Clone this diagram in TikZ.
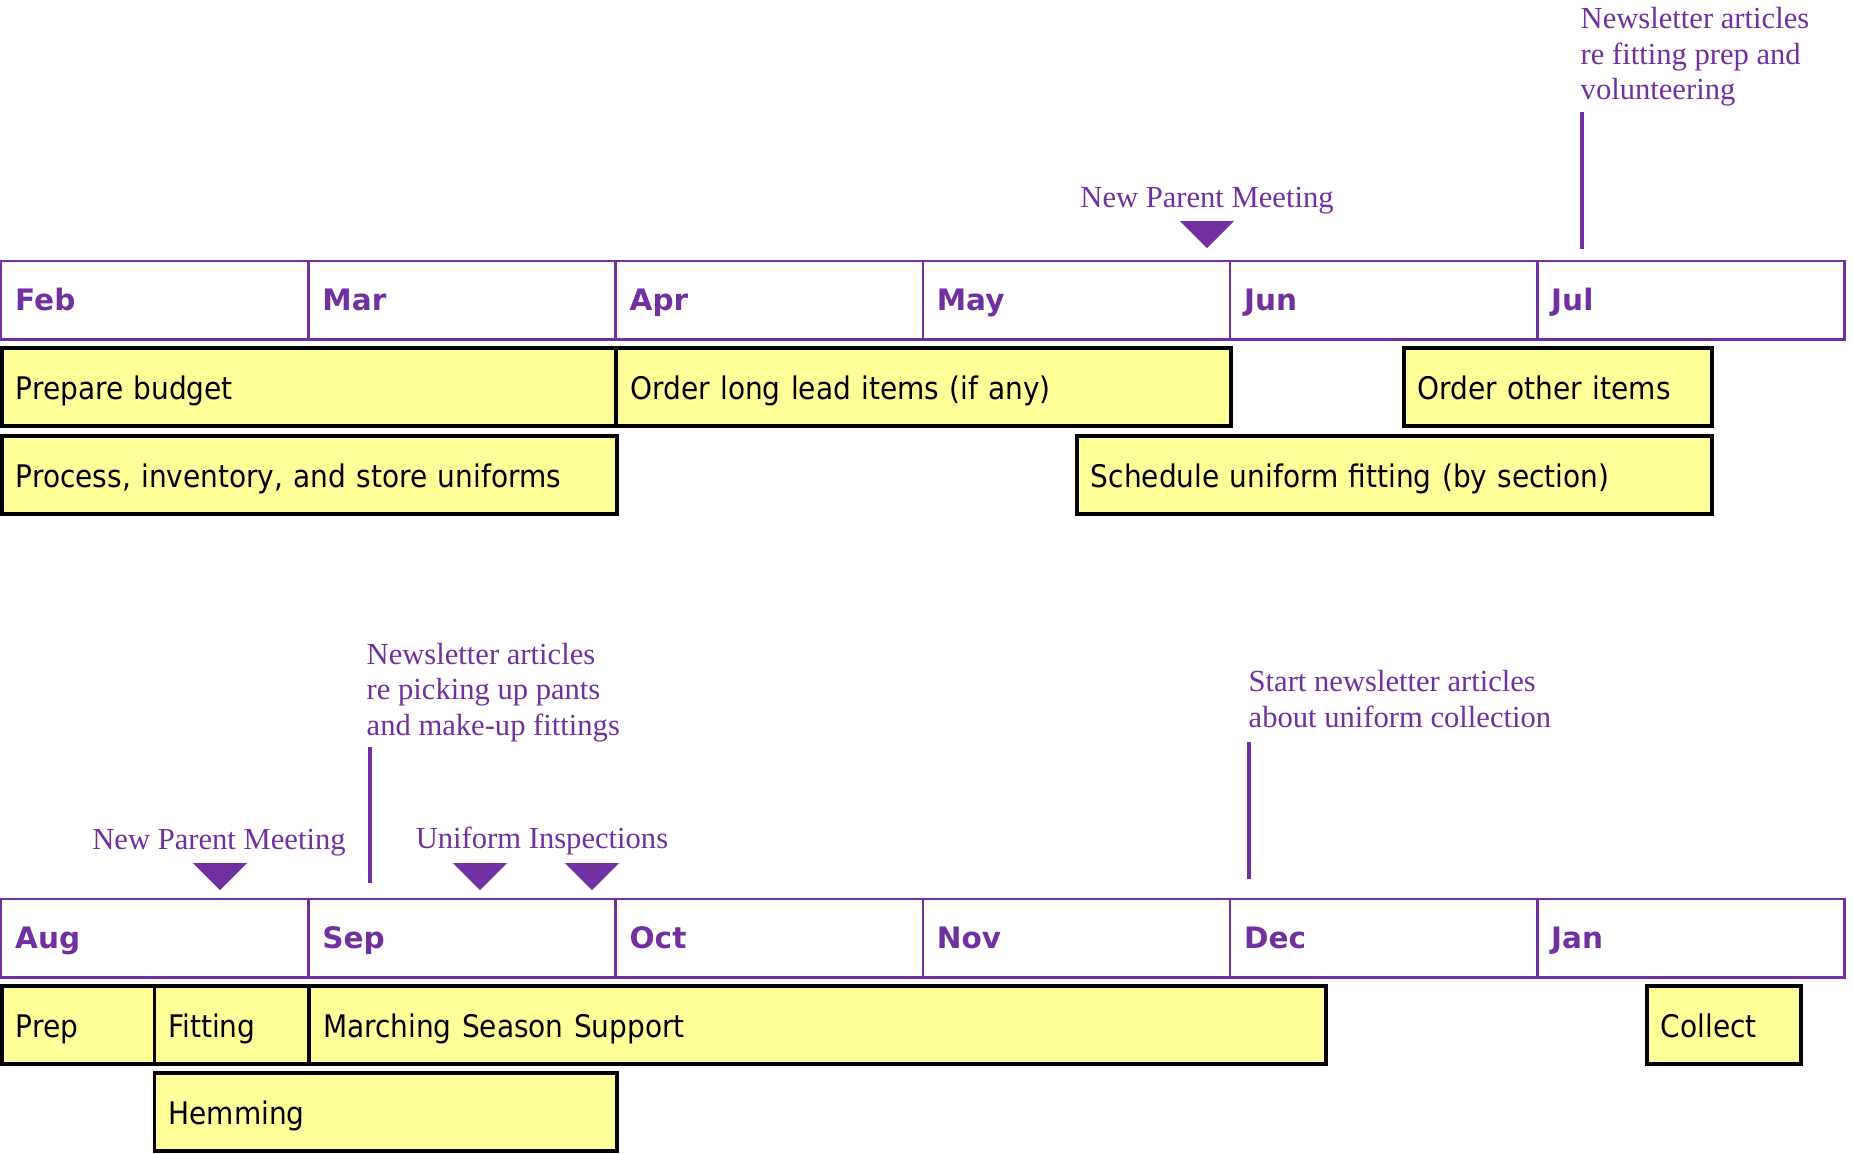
\documentclass[tikz,border=0pt]{standalone}
\usepackage{fontspec}
\setmainfont{Liberation Serif}
\newfontfamily\taskfont{DejaVu Sans Condensed}
\newfontfamily\monthfont{DejaVu Sans}
\definecolor{bandpurple}{HTML}{7030A0}
\definecolor{taskyellow}{HTML}{FFFF99}
\newcommand{\meetmark}[1]{\fill[bandpurple] (#1) ++(-27,0) -- ++(54,0) -- ++(-27,27) -- cycle;}

\begin{document}
\begin{tikzpicture}
    [
        x=0.01cm, y=-0.01cm,
        month/.style = {draw=bandpurple, line width=0.7pt, shape=rectangle, anchor=north west, minimum height=0.78cm, inner xsep=0.14cm, text width=2.792cm, text height=8pt, text depth=2pt, align=left, text=bandpurple, font=\monthfont\bfseries\fontsize{8.4}{10}\selectfont},
        task/.style = {draw=black, fill=taskyellow, line width=1.1pt, shape=rectangle, anchor=north west, minimum height=0.78cm, inner xsep=0.14cm, text height=9.4pt, text depth=2pt, align=left, font=\taskfont\fontsize{8.85}{11}\selectfont},
        note/.style = {text=bandpurple, align=left, inner sep=0pt, font=\fontsize{8.7}{10.1}\selectfont},
        tick/.style = {draw=bandpurple, line width=1.3pt},
    ]
    \useasboundingbox (0,0) rectangle (1853,1153);

    % first half of the year
    \node[month] (feb) at (0,260)      {Feb};
    \node[month] (mar) at (307.2,260)  {Mar};
    \node[month] (apr) at (614.4,260)  {Apr};
    \node[month] (may) at (921.6,260)  {May};
    \node[month] (jun) at (1228.8,260) {Jun};
    \node[month] (jul) at (1536,260)   {Jul};

    \node[task, text width=5.865cm] (budget)   at (0,346)     {Prepare budget};
    \node[task, text width=5.865cm] (longlead) at (614.4,346) {Order long lead items (if any)};
    \node[task, text width=2.80cm]  (other)    at (1402,346)  {Order other items};
    \node[task, text width=5.865cm] (process)  at (0,434)     {Process, inventory, and store uniforms};
    \node[task, text width=6.07cm]  (schedule) at (1075,434)  {Schedule uniform fitting (by section)};

    \node[note] (meetA) at (1207,200.5) {New Parent Meeting};
    \meetmark{1207,221}

    \node[note, anchor=west] (newsA) at (1580,57) {Newsletter articles\\re fitting prep and\\volunteering};
    \coordinate (newsAtop) at (1582,112);
    \coordinate (newsAend) at (1582,249);
    \draw[tick] (newsAtop) -- (newsAend);

    % second half of the year
    \node[month] (aug) at (0,898)      {Aug};
    \node[month] (sep) at (307.2,898)  {Sep};
    \node[month] (oct) at (614.4,898)  {Oct};
    \node[month] (nov) at (921.6,898)  {Nov};
    \node[month] (dec) at (1228.8,898) {Dec};
    \node[month] (jan) at (1536,898)   {Jan};

    \node[task, text width=1.245cm] (prep)     at (0,984)     {Prep};
    \node[task, text width=1.265cm] (fitting)  at (152.5,984) {Fitting};
    \node[task, text width=9.886cm] (marching) at (307.2,984) {Marching Season Support};
    \node[task, text width=1.26cm]  (collect)  at (1645,984)  {Collect};
    \node[task, text width=4.34cm]  (hemming)  at (152.5,1071) {Hemming};

    \node[note] (meetB) at (219,842.5) {New Parent Meeting};
    \meetmark{220,863}

    \node[note] (inspect) at (542,840.5) {Uniform Inspections};
    \meetmark{480,863}
    \meetmark{592,863}

    \node[note, anchor=west] (newsB) at (366,692.5) {Newsletter articles\\re picking up pants\\and make-up fittings};
    \coordinate (newsBtop) at (370,747);
    \coordinate (newsBend) at (370,883);
    \draw[tick] (newsBtop) -- (newsBend);

    \node[note, anchor=west] (newsC) at (1248,699) {Start newsletter articles\\about uniform collection};
    \coordinate (newsCtop) at (1249,742);
    \coordinate (newsCend) at (1249,879);
    \draw[tick] (newsCtop) -- (newsCend);

\end{tikzpicture}
\end{document}
